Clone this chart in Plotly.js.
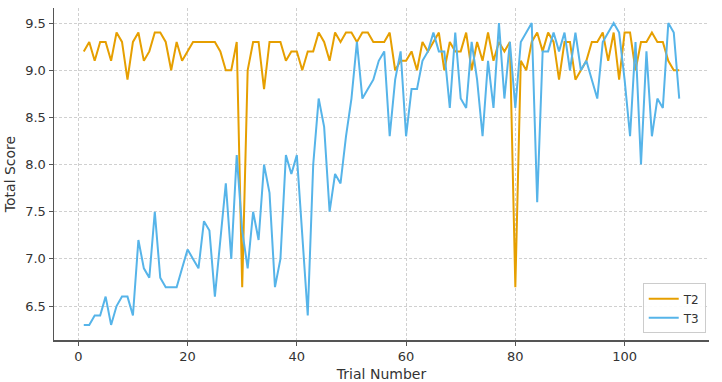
<!DOCTYPE html>
<html>
<head>
<meta charset="utf-8">
<script src="https://cdn.plot.ly/plotly-3.0.1.min.js"></script>
<style>html,body{margin:0;padding:0;background:#fff;}#chart{width:722px;height:382px;}</style>
</head>
<body>
<div id="chart"></div>
<script>
var trials = [];
for (var i = 1; i <= 110; i++) trials.push(i);

var t2 = [
  9.2, 9.3, 9.1, 9.3, 9.3, 9.1, 9.4, 9.3, 8.9, 9.3, 9.4, 9.1, 9.2, 9.4, 9.4, 9.3, 9.0,
  9.3, 9.1, 9.2, 9.3, 9.3, 9.3, 9.3, 9.3, 9.2, 9.0, 9.0, 9.3, 6.7,
  9.0, 9.3, 9.3, 8.8, 9.3, 9.3, 9.3, 9.1, 9.2, 9.2, 9.0, 9.2, 9.2,
  9.4, 9.3, 9.1, 9.4, 9.3, 9.4, 9.4, 9.3, 9.4, 9.4, 9.3, 9.3, 9.3, 9.4, 9.0,
  9.1, 9.1, 9.2, 9.0, 9.3, 9.2, 9.3, 9.4, 9.0, 9.3, 9.2, 9.2, 9.4, 9.0,
  9.3, 9.1, 9.4, 9.1, 9.3, 9.2, 9.3, 6.7, 9.1, 9.0, 9.3, 9.4, 9.2, 9.4, 9.3, 8.9, 9.3, 9.3,
  8.9, 9.0, 9.1, 9.3, 9.3, 9.4, 9.1, 9.4, 8.9, 9.4, 9.4, 9.0, 9.3, 9.3, 9.4, 9.3, 9.3, 9.1, 9.0, 9.0
];

var t3 = [
  6.3, 6.3, 6.4, 6.4, 6.6, 6.3, 6.5, 6.6, 6.6, 6.4, 7.2, 6.9, 6.8, 7.5, 6.8, 6.7, 6.7,
  6.7, 6.9, 7.1, 7.0, 6.9, 7.4, 7.3, 6.6, 7.2, 7.8, 7.0, 8.1, 7.3, 6.9, 7.5, 7.2, 8.0, 7.7, 6.7,
  7.0, 8.1, 7.9, 8.1, 7.2, 6.4, 8.0, 8.7, 8.4, 7.5, 7.9, 7.8, 8.3, 8.7, 9.3, 8.7, 8.8, 8.9,
  9.1, 9.2, 8.3, 8.9, 9.2, 8.3, 8.8, 8.8, 9.1, 9.2, 9.4, 9.2, 9.2, 8.6, 9.4, 8.7, 8.6, 9.3,
  8.9, 8.3, 9.1, 8.6, 9.5, 8.7, 9.3, 8.6, 9.3, 9.4, 9.5, 7.6, 9.2, 9.2, 9.4, 9.2, 9.4, 9.0,
  9.4, 9.0, 9.1, 8.9, 8.7, 9.3, 9.4, 9.5, 9.4, 8.9, 8.3, 9.3, 8.0, 9.2, 8.3, 8.7, 8.6, 9.5, 9.4, 8.7
];

var seriesNames = ['T2', 'T3'];
var xTicks = [0, 20, 40, 60, 80, 100];
var yTicks = [6.5, 7.0, 7.5, 8.0, 8.5, 9.0, 9.5];
var yTickText = ['6.5', '7.0', '7.5', '8.0', '8.5', '9.0', '9.5'];

var traces = [
  {x: trials, y: t2, name: seriesNames[0], mode: 'lines', type: 'scatter',
   line: {color: '#E69F00', width: 2}},
  {x: trials, y: t3, name: seriesNames[1], mode: 'lines', type: 'scatter',
   line: {color: '#56B4E9', width: 2}}
];

var axisCommon = {
  showline: true, linecolor: '#555555', linewidth: 1.5, mirror: false,
  ticks: 'outside', ticklen: 4, tickwidth: 1, tickcolor: '#555555',
  showgrid: true, gridcolor: '#d0d0d0', griddash: '3px,2px', gridwidth: 1,
  zeroline: false,
  tickfont: {family: 'DejaVu Sans', size: 13, color: '#333333'}
};

var layout = {
  width: 722, height: 382,
  margin: {l: 54, r: 13, t: 8, b: 42},
  paper_bgcolor: '#ffffff', plot_bgcolor: '#ffffff',
  font: {family: 'DejaVu Sans', color: '#333333'},
  showlegend: true,
  legend: {
    x: 0.995, y: 0.02, xanchor: 'right', yanchor: 'bottom',
    bgcolor: 'rgba(255,255,255,0.9)', bordercolor: '#cccccc', borderwidth: 1,
    font: {family: 'DejaVu Sans', size: 12, color: '#333333'}
  },
  xaxis: Object.assign({}, axisCommon, {
    range: [-4.45, 115.45], tickvals: xTicks, ticktext: xTicks.map(String),
    title: {text: 'Trial Number', font: {family: 'DejaVu Sans', size: 14, color: '#333333'}, standoff: 6}
  }),
  yaxis: Object.assign({}, axisCommon, {
    range: [6.14, 9.66], tickvals: yTicks, ticktext: yTickText,
    title: {text: 'Total Score', font: {family: 'DejaVu Sans', size: 14, color: '#333333'}, standoff: 6}
  })
};

Plotly.newPlot('chart', traces, layout, {displayModeBar: false, staticPlot: true});
</script>
</body>
</html>
